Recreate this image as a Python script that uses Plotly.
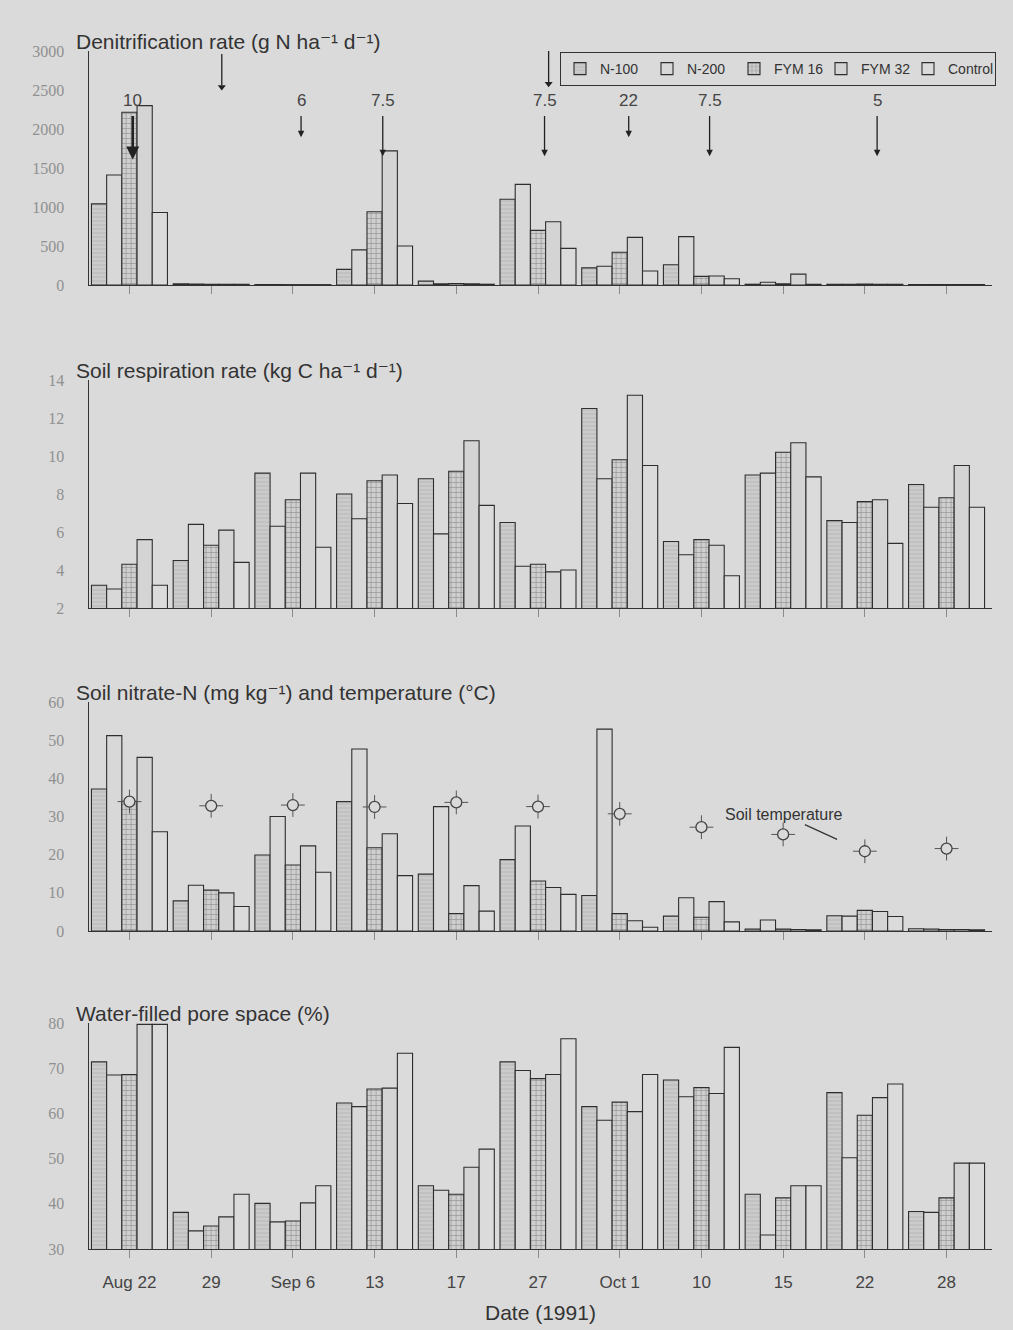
import plotly.graph_objects as go

# ---------------- data ----------------
dates = ["Aug 22", "29", "Sep 6", "13", "17", "27", "Oct 1", "10", "15", "22", "28"]
treatments = ["N-100", "N-200", "FYM 16", "FYM 32", "Control"]

# Denitrification rate (g N ha-1 d-1)
denit_n100 = [1040, 15, 6, 200, 50, 1100, 220, 260, 10, 10, 5]
denit_n200 = [1410, 12, 6, 450, 15, 1290, 240, 620, 35, 10, 5]
denit_fym16 = [2215, 10, 5, 940, 20, 700, 420, 110, 15, 12, 5]
denit_fym32 = [2300, 8, 5, 1720, 15, 810, 610, 115, 140, 10, 5]
denit_control = [930, 8, 5, 500, 10, 470, 180, 80, 10, 8, 5]

# Soil respiration rate (kg C ha-1 d-1)
resp_n100 = [3.2, 4.5, 9.1, 8.0, 8.8, 6.5, 12.5, 5.5, 9.0, 6.6, 8.5]
resp_n200 = [3.0, 6.4, 6.3, 6.7, 5.9, 4.2, 8.8, 4.8, 9.1, 6.5, 7.3]
resp_fym16 = [4.3, 5.3, 7.7, 8.7, 9.2, 4.3, 9.8, 5.6, 10.2, 7.6, 7.8]
resp_fym32 = [5.6, 6.1, 9.1, 9.0, 10.8, 3.9, 13.2, 5.3, 10.7, 7.7, 9.5]
resp_control = [3.2, 4.4, 5.2, 7.5, 7.4, 4.0, 9.5, 3.7, 8.9, 5.4, 7.3]

# Soil nitrate-N (mg kg-1)
nitr_n100 = [37.2, 7.9, 19.9, 33.9, 14.9, 18.7, 9.3, 3.9, 0.5, 4.0, 0.6]
nitr_n200 = [51.2, 12.0, 30.0, 47.7, 32.6, 27.5, 52.9, 8.7, 2.9, 3.9, 0.5]
nitr_fym16 = [34.0, 10.7, 17.3, 21.8, 4.6, 13.1, 4.6, 3.6, 0.5, 5.4, 0.4]
nitr_fym32 = [45.5, 10.0, 22.3, 25.5, 11.9, 11.4, 2.7, 7.7, 0.4, 5.1, 0.4]
nitr_control = [26.0, 6.4, 15.4, 14.5, 5.2, 9.6, 1.0, 2.4, 0.3, 3.8, 0.3]

# Soil temperature (deg C)
soil_temp = [33.9, 32.8, 33.0, 32.5, 33.7, 32.6, 30.7, 27.2, 25.3, 20.9, 21.6]

# Water-filled pore space (%)
wfps_n100 = [71.4, 38.1, 40.1, 62.3, 44.0, 71.4, 61.5, 67.4, 42.1, 64.6, 38.3]
wfps_n200 = [68.5, 34.0, 36.0, 61.5, 43.0, 69.5, 58.5, 63.7, 33.1, 50.2, 38.1]
wfps_fym16 = [68.6, 35.1, 36.2, 65.4, 42.1, 67.7, 62.5, 65.7, 41.3, 59.6, 41.3]
wfps_fym32 = [79.7, 37.1, 40.2, 65.6, 48.1, 68.6, 60.4, 64.4, 44.0, 63.5, 49.0]
wfps_control = [79.7, 42.1, 44.0, 73.3, 52.1, 76.5, 68.6, 74.6, 44.0, 66.5, 49.0]

# Rain events (mm) marked with arrows on the denitrification panel
rain_pos = [0.04, 2.1, 3.1, 5.08, 6.11, 7.1, 9.15]
rain_mm = ["10", "6", "7.5", "7.5", "22", "7.5", "5"]
# unlabelled event arrows
event_pos = [1.13, 5.13]

# ---------------- figure ----------------
BG = "#dadada"
W, H = 1013, 1330
X0, X1 = 88.6, 991.5
panels_px = [(51, 285), (380, 608), (702, 931), (1023, 1249)]  # top, bottom (px)

def py(px):
    return 1 - px / H

bar_styles = [
    dict(color="#cbcbcb", pattern=dict(shape="-", fgcolor="#9c9c9c", size=4, solidity=0.2)),
    dict(color="#d8d8d8"),
    dict(color="#cfcfcf", pattern=dict(shape="+", fgcolor="#555555", size=5, solidity=0.25)),
    dict(color="#d4d4d4"),
    dict(color="#dbdbdb"),
]

panel_series = [
    [denit_n100, denit_n200, denit_fym16, denit_fym32, denit_control],
    [resp_n100, resp_n200, resp_fym16, resp_fym32, resp_control],
    [nitr_n100, nitr_n200, nitr_fym16, nitr_fym32, nitr_control],
    [wfps_n100, wfps_n200, wfps_fym16, wfps_fym32, wfps_control],
]
xs = list(range(len(dates)))

fig = go.Figure()
for p, series in enumerate(panel_series):
    xa = "x" if p == 0 else f"x{p+1}"
    ya = "y" if p == 0 else f"y{p+1}"
    for t, vals in enumerate(series):
        st = bar_styles[t]
        fig.add_trace(go.Bar(
            x=xs, y=vals, name=treatments[t], xaxis=xa, yaxis=ya,
            legendgroup=treatments[t], showlegend=(p == 0),
            marker=dict(color=st["color"], pattern=st.get("pattern", {}),
                        line=dict(color="#2e2e2e", width=1.1)),
        ))

# temperature "sun" symbols
fig.add_trace(go.Scatter(x=xs, y=soil_temp, xaxis="x3", yaxis="y3", mode="markers",
                         showlegend=False, hoverinfo="skip",
                         marker=dict(symbol="cross-thin-open", size=17, color="#555555",
                                     line=dict(color="#555555", width=1))))
fig.add_trace(go.Scatter(x=xs, y=soil_temp, xaxis="x3", yaxis="y3", mode="markers",
                         showlegend=False, name="Soil temperature",
                         marker=dict(symbol="circle", size=11, color=BG,
                                     line=dict(color="#444444", width=1.3))))

# unlabelled event arrows (shaft + head)
ev_x, ev_y = [], []
for i, xpos in enumerate(event_pos):
    top = 2960 if i == 0 else 3000
    ev_x += [xpos, xpos, None]
    ev_y += [top, top - 400, None]
fig.add_trace(go.Scatter(x=ev_x, y=ev_y, xaxis="x", yaxis="y", mode="lines",
                         showlegend=False, hoverinfo="skip", cliponaxis=False,
                         line=dict(color="#222222", width=1.3)))
fig.add_trace(go.Scatter(x=event_pos, y=[2960 - 420, 3000 - 420], xaxis="x", yaxis="y",
                         mode="markers", showlegend=False, hoverinfo="skip", cliponaxis=False,
                         marker=dict(symbol="triangle-down", size=7, color="#222222")))

layout_axes = {}
yranges = [(0, 3000), (2, 14), (0, 60), (30, 80)]
ytickvals = [list(range(0, 3001, 500)), list(range(2, 15, 2)),
             list(range(0, 61, 10)), list(range(30, 81, 10))]
for p in range(4):
    top, bot = panels_px[p]
    sx = "" if p == 0 else str(p + 1)
    layout_axes[f"xaxis{sx}"] = dict(
        domain=[X0 / W, X1 / W], range=[-0.5, 10.55], anchor=f"y{sx}",
        showline=True, linecolor="#333333", linewidth=1.2,
        ticks="outside", ticklen=8, tickcolor="#8a8a8a", tickwidth=1,
        tickvals=xs, ticktext=dates, showticklabels=(p == 3),
        tickfont=dict(family="Liberation Sans, Arial", size=17, color="#444444"),
        ticklabelstandoff=9,
        showgrid=False, zeroline=False, fixedrange=True,
    )
    layout_axes[f"yaxis{sx}"] = dict(
        domain=[py(bot), py(top)], range=list(yranges[p]), anchor=f"x{sx}",
        showline=True, linecolor="#333333", linewidth=1.2,
        ticks="", tickvals=ytickvals[p], ticklabelstandoff=20,
        tickfont=dict(family="Liberation Serif, Times New Roman", size=16, color="#909090"),
        showgrid=False, zeroline=False, fixedrange=True,
    )

titles = [
    "Denitrification rate (g N ha\u207b\u00b9 d\u207b\u00b9)",
    "Soil respiration rate (kg C ha\u207b\u00b9 d\u207b\u00b9)",
    "Soil nitrate-N (mg kg\u207b\u00b9) and temperature (\u00b0C)",
    "Water-filled pore space (%)",
]
annotations = []
for p in range(4):
    annotations.append(dict(
        text=titles[p], xref="paper", yref="paper", x=74 / W, y=py(panels_px[p][0] - 10),
        xanchor="left", yanchor="middle", showarrow=False,
        font=dict(family="Liberation Sans, DejaVu Sans, Arial", size=21, color="#333333")))

annotations.append(dict(
    text="Date (1991)", xref="paper", yref="paper", x=(X0 + X1) / 2 / W, y=py(1312),
    xanchor="center", yanchor="middle", showarrow=False,
    font=dict(family="Liberation Sans, Arial", size=21, color="#333333")))

# rain arrows with labels (label at the tail)
for xpos, lab in zip(rain_pos, rain_mm):
    if lab == "10":
        head, wd = 1610, 2.6
    elif lab in ("6", "22"):
        head, wd = 1895, 1.3
    else:
        head, wd = 1650, 1.3
    annotations.append(dict(
        x=xpos, y=head, ax=xpos, ay=2360, xref="x", yref="y", axref="x", ayref="y",
        text=lab, showarrow=True, arrowhead=2, arrowsize=1, arrowwidth=wd,
        arrowcolor="#222222", startstandoff=4,
        font=dict(family="Liberation Sans, Arial", size=17, color="#444444")))

# soil temperature label
annotations.append(dict(
    text="Soil temperature", x=8.66, y=24.0, ax=8.0, ay=30.5,
    xref="x3", yref="y3", axref="x3", ayref="y3",
    showarrow=True, arrowhead=0, arrowwidth=1.2, arrowcolor="#333333",
    font=dict(family="Liberation Sans, Arial", size=16, color="#333333")))

fig.update_layout(
    width=W, height=H, paper_bgcolor=BG, plot_bgcolor=BG,
    margin=dict(l=0, r=0, t=0, b=0, autoexpand=False),
    barmode="group", bargap=0.07, bargroupgap=0.0,
    showlegend=True,
    legend=dict(orientation="h", x=560 / W, y=py(52), xanchor="left", yanchor="top",
                bgcolor="rgba(0,0,0,0)", bordercolor="#333333", borderwidth=1,
                font=dict(family="Liberation Sans, Arial", size=14, color="#333333"),
                itemwidth=30, entrywidth=42, entrywidthmode="pixels", tracegroupgap=0),
    annotations=annotations,
    **layout_axes,
)

fig.write_html("out.html", config={"displayModeBar": False},
               post_script="document.body.style.margin='0';document.body.style.background='#dadada';")
